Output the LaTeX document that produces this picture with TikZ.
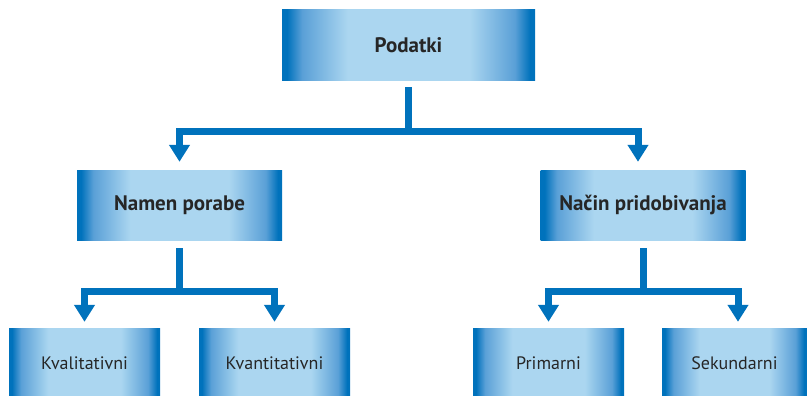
\documentclass[tikz,border=0pt]{standalone}
\usepackage{fontspec}
\setmainfont{PT Sans}
\usetikzlibrary{arrows.meta}
\definecolor{dkblue}{RGB}{0,114,188}
\definecolor{midblue}{RGB}{90,160,215}
\definecolor{ltblue}{RGB}{171,214,240}
\pgfdeclarehorizontalshading{boxshade}{100bp}{color(0bp)=(dkblue); color(25bp)=(dkblue); color(26bp)=(dkblue); color(29bp)=(midblue); color(38bp)=(ltblue); color(62bp)=(ltblue); color(71bp)=(midblue); color(74bp)=(dkblue); color(75bp)=(dkblue); color(100bp)=(dkblue)}
\tikzset{
  gbox/.style={shading=boxshade, inner sep=0pt, text=black!85, font=\fontsize{18}{21}\selectfont},
  bigbox/.style={gbox, minimum width=205pt, minimum height=70pt, font=\fontsize{21}{24}\selectfont\bfseries},
  smallbox/.style={gbox, minimum width=151pt, minimum height=70pt},
  conn/.style={draw=dkblue, line width=7pt, line join=miter},
  arr/.style={conn, -{Triangle[length=17pt,width=20pt]}},
}
\begin{document}
\begin{tikzpicture}[x=1pt,y=-1pt]
\useasboundingbox (0,0) rectangle (807,396);
\node[bigbox, minimum width=253pt, minimum height=71pt] (P) at (408.5,45.5) {Podatki};
\node[bigbox] (N) at (179.5,205) {Namen porabe};
\node[bigbox] (M) at (643,205) {Način pridobivanja};
\node[smallbox] (K1) at (84.5,363) {Kvalitativni};
\node[smallbox] (K2) at (274.5,363) {Kvantitativni};
\node[smallbox] (S1) at (548.5,363) {Primarni};
\node[smallbox, minimum width=145pt] (S2) at (734.5,363) {Sekundarni};
% top level
\coordinate (J1) at (408.5,131.5);
\draw[conn] ([yshift=-6pt]P.south) -- (J1);
\draw[arr] (J1) -| ([yshift=8pt]N.north);
\draw[arr] (J1) -| ([xshift=-5pt,yshift=8pt]M.north);
% left branch
\coordinate (J2) at (179.5,291);
\draw[conn] ([yshift=-8pt]N.south) -- (J2);
\draw[arr] (J2) -| ([yshift=6pt]K1.north);
\draw[arr] (J2) -| ([yshift=6pt]K2.north);
% right branch
\coordinate (J3) at (643,291);
\draw[conn] ([yshift=-8pt]M.south) -- (J3);
\draw[arr] (J3) -| ([yshift=6pt]S1.north);
\draw[arr] (J3) -| ([xshift=3.5pt,yshift=6pt]S2.north);
\end{tikzpicture}
\end{document}
